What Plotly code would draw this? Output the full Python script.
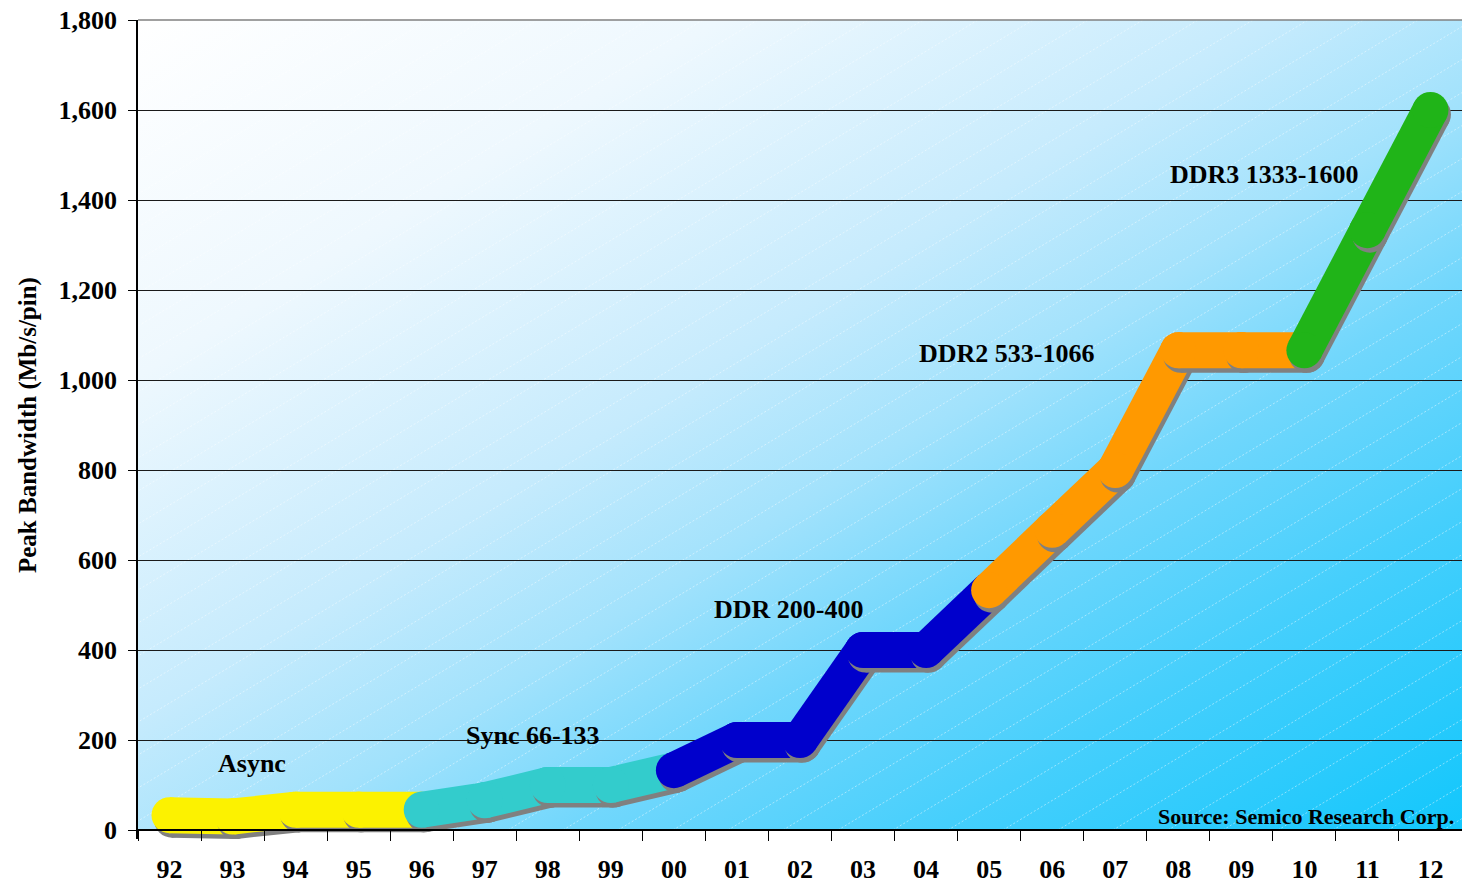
import base64
import plotly.graph_objects as go

# ---------------- data ----------------
years = ["92", "93", "94", "95", "96", "97", "98", "99", "00", "01", "02",
         "03", "04", "05", "06", "07", "08", "09", "10", "11", "12"]
bandwidth = [33, 30, 45, 45, 45, 66, 100, 100, 133, 200, 200,
             400, 400, 533, 667, 800, 1066, 1066, 1066, 1333, 1600]
# generation of each segment (segment i goes from point i to point i+1)
segment_generation = ["Async"] * 4 + ["Sync"] * 4 + ["DDR"] * 5 + ["DDR2"] * 5 + ["DDR3"] * 2
generation_colors = {"Async": "#FCF200", "Sync": "#33CCCC", "DDR": "#0000CC",
                     "DDR2": "#FF9900", "DDR3": "#20B418"}
label_texts = ["Async", "Sync 66-133", "DDR 200-400", "DDR2 533-1066", "DDR3 1333-1600"]
label_x = [1.31, 5.76, 9.83, 13.28, 17.37]
label_y = [147, 211, 491, 1058, 1456]
y_ticks = [0, 200, 400, 600, 800, 1000, 1200, 1400, 1600, 1800]

# ---------------- layout geometry ----------------
W, H = 1462, 883
ML, MR, MT = 138, 0, 20
AXIS_Y = 830          # pixel row of the value-0 axis
EXTRA = 9             # plot area continues a little below the axis so thick lines are not clipped
MB = H - AXIS_Y - EXTRA
PW = W - ML - MR
PH = AXIS_Y - MT      # pixel height for 0..YMAX
YMAX = 1800
n = len(years)
px_per_cat = PW / n
px_per_unit = PH / YMAX
YMIN = -EXTRA / px_per_unit
LW = 36  # thick line width in px
sh_dx = 2.5 / px_per_cat
sh_dy = -4.5 / px_per_unit

FONT = "Liberation Serif, Times New Roman, serif"

# ---------------- background svg (gradient + faint diagonal stripes) ----------------
stripes = []
x0 = -1500
while x0 < PW + 60:
    stripes.append(f'<line x1="{x0}" y1="{PH}" x2="{x0 + PH / 0.6}" y2="0" />')
    x0 += 55
svg = f'''<svg xmlns="http://www.w3.org/2000/svg" width="{PW}" height="{PH}" viewBox="0 0 {PW} {PH}" preserveAspectRatio="none">
<defs><linearGradient id="g" x1="0" y1="0" x2="1" y2="1">
<stop offset="0" stop-color="#ffffff"/>
<stop offset="0.22" stop-color="#eef8fe"/>
<stop offset="0.43" stop-color="#c6ebfd"/>
<stop offset="0.55" stop-color="#a2e2fc"/>
<stop offset="0.66" stop-color="#72d7fc"/>
<stop offset="0.8" stop-color="#46cffc"/>
<stop offset="0.92" stop-color="#28cafc"/>
<stop offset="1" stop-color="#12c7fc"/>
</linearGradient></defs>
<rect x="0" y="0" width="{PW}" height="{PH}" fill="url(#g)"/>
<g stroke="#ffffff" stroke-opacity="0.45" stroke-width="1" stroke-dasharray="2,2">{''.join(stripes)}</g>
</svg>'''
bg_src = "data:image/svg+xml;base64," + base64.b64encode(svg.encode()).decode()

fig = go.Figure()

# ---------------- thick segments with round caps and drop shadow ----------------
for i, gen in enumerate(segment_generation):
    xs = [i, i + 1]
    ys = [bandwidth[i], bandwidth[i + 1]]
    fig.add_trace(go.Scatter(
        x=[v + sh_dx for v in xs], y=[v + sh_dy for v in ys], mode="lines+markers",
        line=dict(color="#808080", width=LW),
        marker=dict(color="#808080", size=LW, line=dict(width=0)),
        hoverinfo="skip", showlegend=False, cliponaxis=False))
    col = generation_colors[gen]
    fig.add_trace(go.Scatter(
        x=xs, y=ys, mode="lines+markers",
        line=dict(color=col, width=LW),
        marker=dict(color=col, size=LW, line=dict(width=0)),
        name=gen, showlegend=False, cliponaxis=False))

# ---------------- labels ----------------
for t, lx, ly in zip(label_texts, label_x, label_y):
    fig.add_annotation(x=lx, y=ly, text=f"<b>{t}</b>", showarrow=False,
                       font=dict(family=FONT, size=26, color="#000000"),
                       xanchor="center", yanchor="middle")

TOT = PH + EXTRA
def py(pixel_row):
    """paper y for a pixel row"""
    return (AXIS_Y + EXTRA - pixel_row) / TOT

fig.add_annotation(x=(1456 - ML) / PW, y=py(816), xref="paper", yref="paper",
                   text="<b>Source: Semico Research Corp.</b>", showarrow=False,
                   font=dict(family=FONT, size=22, color="#000000"),
                   xanchor="right", yanchor="middle")

fig.add_annotation(x=(28 - ML) / PW, y=py(425), xref="paper", yref="paper",
                   text="<b>Peak Bandwidth (Mb/s/pin)</b>", showarrow=False, textangle=-90,
                   font=dict(family=FONT, size=25, color="#000000"),
                   xanchor="center", yanchor="middle")

# top border (gray) of plot area
fig.add_shape(type="line", xref="paper", yref="paper", x0=0, x1=1, y0=1, y1=1,
              line=dict(color="#808080", width=1.5), layer="above")

fig.update_layout(
    width=W, height=H,
    margin=dict(l=ML, r=MR, t=MT, b=MB, pad=0),
    paper_bgcolor="#ffffff",
    plot_bgcolor="rgba(0,0,0,0)",
    images=[dict(source=bg_src, xref="paper", yref="paper", x=0, y=1,
                 sizex=1, sizey=PH / TOT, sizing="stretch", xanchor="left", yanchor="top",
                 layer="below")],
    xaxis=dict(
        range=[-0.5, n - 0.5], tickmode="array", tickvals=list(range(n)), ticktext=years,
        ticks="", showgrid=False, zeroline=False,
        anchor="free", position=EXTRA / TOT, automargin=False,
        showline=True, linecolor="#000000", linewidth=1.5,
        tickfont=dict(family=FONT, size=26, color="#000000", weight="bold"),
        ticklabelstandoff=16,
        minor=dict(tickmode="array", tickvals=[k - 0.5 for k in range(n + 1)],
                   ticks="outside", ticklen=10, tickcolor="#000000", tickwidth=1,
                   showgrid=False),
        fixedrange=True,
    ),
    yaxis=dict(
        range=[YMIN, YMAX], tickmode="array", tickvals=y_ticks, tickformat=",",
        ticks="outside", ticklen=8, tickcolor="#000000", tickwidth=1,
        showgrid=True, gridcolor="#1a1a1a", gridwidth=1, zeroline=False,
        showline=True, linecolor="#000000", linewidth=1.5, automargin=False,
        tickfont=dict(family=FONT, size=26, color="#000000", weight="bold"),
        ticklabelstandoff=6,
        fixedrange=True,
    ),
)

fig.write_html("out.html")
